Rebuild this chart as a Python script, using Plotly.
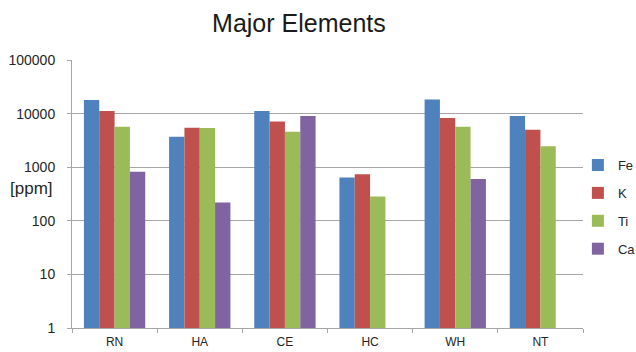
import plotly.graph_objects as go

sites = ["RN", "HA", "CE", "HC", "WH", "NT"]
fe = [18000, 3700, 11200, 640, 18300, 9050]
k = [11200, 5450, 7100, 740, 8300, 5000]
ti = [5700, 5400, 4600, 285, 5700, 2470]
ca = [820, 220, 9050, None, 600, None]

series = [("Fe", fe, "#4F81BD"), ("K", k, "#C0504D"), ("Ti", ti, "#9BBB59"), ("Ca", ca, "#8064A2")]

fig = go.Figure()
for name, vals, color in series:
    fig.add_trace(go.Bar(
        x=sites, y=vals, name=name, legendgroup=name,
        marker=dict(color=color, line=dict(width=0)),
    ))

font_family = "Liberation Sans, Arial, sans-serif"
fig.update_layout(
    width=636, height=352,
    margin=dict(l=72, r=53, t=60, b=24, autoexpand=False),
    paper_bgcolor="white", plot_bgcolor="white",
    barmode="group", bargap=0.28, bargroupgap=0,
    font=dict(family=font_family, color="#262626"),
    title=dict(text="Major Elements", x=0.47, xanchor="center", y=0.935, yanchor="middle",
               font=dict(size=25, color="#1a1a1a")),
    legend=dict(x=0.99, y=0.664, xanchor="left", yanchor="top",
                font=dict(size=13, color="#262626"), tracegroupgap=8,
                traceorder="grouped", itemwidth=30, bgcolor="rgba(0,0,0,0)"),
    showlegend=True,
)
fig.update_yaxes(
    type="log", range=[0, 5], tickvals=[1, 10, 100, 1000, 10000, 100000],
    ticktext=["1", "10", "100", "1000", "10000", "100000"],
    showgrid=True, gridcolor="#A6A6A6", gridwidth=1,
    showline=True, linecolor="#A6A6A6", linewidth=1,
    ticks="outside", ticklen=4, tickcolor="#A6A6A6", ticklabelstandoff=9,
    tickfont=dict(size=14, color="#262626"), zeroline=False, automargin=False,
)
fig.update_xaxes(
    showline=True, linecolor="#A6A6A6", linewidth=1,
    ticks="outside", ticklen=4, tickcolor="#A6A6A6", tickson="boundaries",
    ticklabelstandoff=3,
    tickfont=dict(size=12, color="#262626"), showgrid=False, automargin=False,
)
fig.add_annotation(text="[ppm]", xref="paper", yref="paper", x=-0.033, y=0.522,
                   xanchor="right", yanchor="middle", showarrow=False,
                   font=dict(size=17, color="#262626"))

fig.write_html("out.html")
